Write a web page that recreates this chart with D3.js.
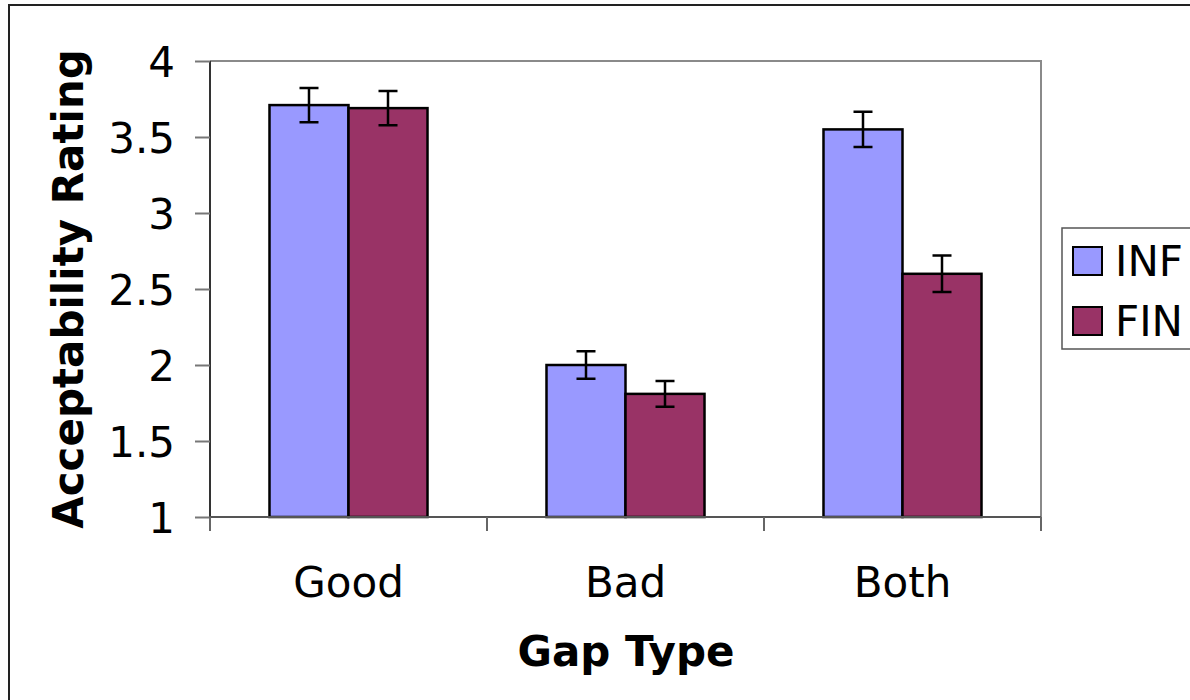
<!DOCTYPE html>
<html><head><meta charset="utf-8">
<script src="https://cdn.jsdelivr.net/npm/d3@7"></script>
<style>body{margin:0;background:#fff;}svg{display:block;font-family:"DejaVu Sans",Verdana,sans-serif;}</style>
</head><body>
<script>
const categories = ["Good", "Bad", "Both"];
const seriesNames = ["INF", "FIN"];
const infValues = [3.71, 2.00, 3.55];
const finValues = [3.69, 1.81, 2.60];
const infErrors = [0.113, 0.09, 0.116];
const finErrors = [0.113, 0.084, 0.12];
const yTicks = [1, 1.5, 2, 2.5, 3, 3.5, 4];
const colors = ["#9999FF", "#993366"];

const W = 1190, H = 700;
const svg = d3.select("body").append("svg").attr("width", W).attr("height", H);

// outer chart border
svg.append("rect").attr("x", 9).attr("y", 5).attr("width", 1200).attr("height", 720)
  .attr("fill", "#fff").attr("stroke", "#222").attr("stroke-width", 2);

const L = 210, R = 1041, T = 61, B = 517;
const x = d3.scaleBand().domain(categories).range([L, R]).paddingInner(0).paddingOuter(0);
const xs = d3.scaleBand().domain(seriesNames).range([0, x.bandwidth()]).paddingInner(0).paddingOuter(0.753);
const y = d3.scaleLinear().domain([1, 4]).range([B, T]);

// plot area border (top & right)
svg.append("path").attr("d", `M${L},${T}H${R}V${B}`).attr("fill", "none").attr("stroke", "#8a8a8a").attr("stroke-width", 2);

const data = categories.map((c, i) => ({cat: c, vals: [
  {s: "INF", v: infValues[i], e: infErrors[i]},
  {s: "FIN", v: finValues[i], e: finErrors[i]}]}));

const g = svg.append("g");
const groups = g.selectAll("g.grp").data(data).join("g").attr("transform", d => `translate(${x(d.cat)},0)`);
groups.selectAll("rect").data(d => d.vals).join("rect")
  .attr("x", d => xs(d.s)).attr("width", xs.bandwidth())
  .attr("y", d => y(d.v)).attr("height", d => y(1) - y(d.v))
  .attr("fill", (d, i) => colors[i]).attr("stroke", "#000").attr("stroke-width", 2.5);

// error bars
groups.selectAll("path.err").data(d => d.vals).join("path").attr("class", "err")
  .attr("d", d => {
    const cx = xs(d.s) + xs.bandwidth() / 2, y1 = y(d.v + d.e), y2 = y(d.v - d.e), w = 9.5;
    return `M${cx},${y1}V${y2}M${cx - w},${y1}H${cx + w}M${cx - w},${y2}H${cx + w}`;
  })
  .attr("stroke", "#000").attr("stroke-width", 2.5).attr("fill", "none");

// y axis
const yAxis = d3.axisLeft(y).tickValues(yTicks).tickSize(15).tickPadding(20).tickFormat(d3.format("~g"));
const ya = svg.append("g").attr("transform", `translate(${L},0)`).call(yAxis);
ya.select(".domain").attr("stroke", "#333").attr("stroke-width", 2).attr("d", `M0,${T}V${B}`);
ya.selectAll(".tick line").attr("stroke", "#777").attr("stroke-width", 2);
ya.selectAll(".tick text").attr("font-size", 42).attr("fill", "#000").attr("font-family", "DejaVu Sans, Verdana, sans-serif").attr("dy", "0.36em");

// x axis
const xa = svg.append("g").attr("transform", `translate(0,${B})`).call(d3.axisBottom(x).tickSize(0).tickPadding(0));
xa.select(".domain").attr("stroke", "#555").attr("stroke-width", 2).attr("d", `M${L},0H${R}`);
xa.selectAll(".tick text").attr("font-size", 42).attr("fill", "#000").attr("font-family", "DejaVu Sans, Verdana, sans-serif").attr("y", 80).attr("dy", 0);
// category boundary ticks
const bounds = categories.map(c => x(c)).concat([R]);
svg.append("g").selectAll("line").data(bounds).join("line")
  .attr("x1", d => d).attr("x2", d => d).attr("y1", B).attr("y2", B + 14)
  .attr("stroke", "#666").attr("stroke-width", 2);

// axis titles
svg.append("text").attr("x", (L + R) / 2 + 0.5).attr("y", 666).attr("text-anchor", "middle")
  .attr("font-size", 42).attr("font-weight", "bold").text("Gap Type");
svg.append("text").attr("transform", `translate(83,${(T + B) / 2}) rotate(-90)`).attr("text-anchor", "middle")
  .attr("font-size", 42).attr("font-weight", "bold").text("Acceptability Rating");

// legend
const lg = svg.append("g");
lg.append("rect").attr("x", 1062).attr("y", 228).attr("width", 200).attr("height", 121)
  .attr("fill", "#fff").attr("stroke", "#555").attr("stroke-width", 1.5);
const li = lg.selectAll("g.li").data(seriesNames).join("g").attr("transform", (d, i) => `translate(1073,${247 + i * 60})`);
li.append("rect").attr("width", 29).attr("height", 28).attr("fill", (d, i) => colors[i]).attr("stroke", "#000").attr("stroke-width", 2);
li.append("text").attr("x", 42).attr("y", 29).attr("font-size", 42).text(d => d);
</script>
</body></html>
